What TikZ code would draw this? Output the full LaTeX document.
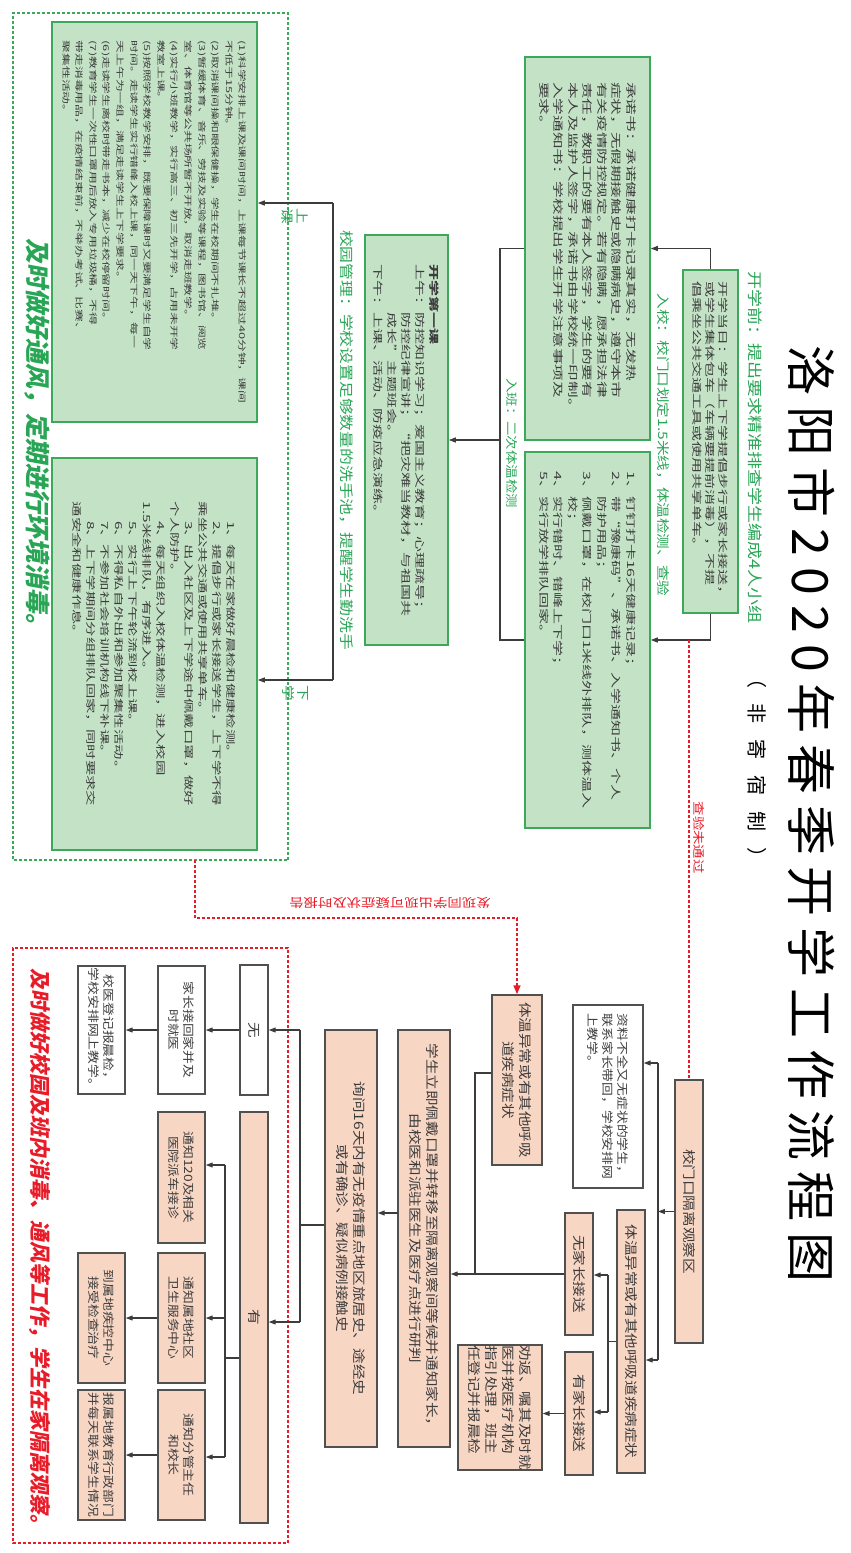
\documentclass[tikz,border=0pt]{standalone}
\usepackage{fontspec}
\setmainfont{Noto Sans CJK SC}
\newfontfamily\gfont{Noto Sans CJK SC}[FakeStretch=1.6]
\newfontfamily\pfont{Noto Sans CJK SC}[FakeStretch=1.2]
\newfontfamily\tfont{Noto Sans CJK SC}[LetterSpace=22]
\newfontfamily\efont{Noto Sans CJK SC}[FakeSlant=0.18]
\XeTeXlinebreaklocale "zh"
\XeTeXlinebreakskip=0pt plus 1pt
\usetikzlibrary{arrows.meta}

\definecolor{gfill}{RGB}{196,227,198}
\definecolor{gline}{RGB}{60,168,90}
\definecolor{gtext}{RGB}{40,165,85}
\definecolor{pfill}{RGB}{248,214,196}
\definecolor{pline}{RGB}{80,80,80}
\definecolor{rline}{RGB}{232,28,40}
\definecolor{ink}{RGB}{60,60,60}

\tikzset{
  gbox/.style={draw=gline, fill=gfill, line width=1.6pt, align=left,
    inner sep=0pt, text=ink},
  pbox/.style={draw=pline, fill=pfill, line width=1.5pt, align=center,
    inner sep=0pt, text=ink, font=\pfont\fontsize{13}{17}\selectfont},
  wbox/.style={pbox, fill=white},
  small/.style={font=\pfont\fontsize{11.5}{15}\selectfont},
  glabel/.style={text=gtext, font=\pfont\fontsize{13}{15}\selectfont},
  rlabel/.style={text=rline, font=\pfont\fontsize{12}{14}\selectfont},
  ln/.style={draw=ink, line width=1.1pt},
  arr/.style={ln, -{Triangle[length=7pt,width=5pt]}},
  rdash/.style={draw=rline, line width=1.6pt, dash pattern=on 3pt off 2pt},
}

\begin{document}
\begin{tikzpicture}[x=1pt, y=-1pt, rotate=-90, transform shape]
  \useasboundingbox (0,0) rectangle (1553,851);

  % zones
  \node[draw=gline, line width=1.6pt, dash pattern=on 3pt off 2pt,
    minimum width=847pt, minimum height=275pt] (gzone) at (436.5,700.5) {};
  \node[draw=rline, line width=1.6pt, dash pattern=on 3pt off 2pt,
    minimum width=595pt, minimum height=275pt] (rzone) at (1245.5,700.5) {};

  % title
  \node (title) at (814,39) {\tfont\fontsize{50}{55}\selectfont 洛阳市2020年春季开学工作流程图};
  \node (sub) at (768,94) {\fontsize{20}{24}\selectfont （\hspace{16pt}非\hspace{16pt}寄\hspace{16pt}宿\hspace{16pt}制\hspace{16pt}）};
  \node[glabel, font=\pfont\fontsize{15}{17}\selectfont] (lbefore) at (447,96) {开学前：提出要求精准排查学生编成4人小组};

  % school side
  \node[gbox, minimum width=343pt, minimum height=55pt,
    font=\gfont\fontsize{10}{13}\selectfont] (A) at (441.5,140.5)
    {开学当日：学生上下学提倡步行或家长接送，\\
     或学生集体包车（车辆要提前消毒），不提\\
     倡乘坐公共交通工具或使用共享单车。};
  \node[glabel] (lin) at (445,188) {入校：校门口划定1.5米线，体温检测、查验};

  \node[gbox, minimum width=383pt, minimum height=125pt,
    font=\gfont\fontsize{10.4}{14.5}\selectfont] (B) at (248.5,263.5)
    {承诺书：承诺健康打卡记录真实，无发热\\
     症状，无假期接触史或隐瞒病史，遵守本市\\
     有关疫情防控规定。若有隐瞒，愿承担法律\\
     责任，教职工的要有本人签字，学生的要有\\
     本人及监护人签字，承诺书由学校统一印制。\\
     入学通知书：学校提出学生开学注意事项及\\
     要求。};
  \node[gbox, minimum width=376pt, minimum height=125pt,
    font=\gfont\fontsize{10}{14.5}\selectfont] (C) at (640,263.5)
    {1、钉钉打卡16天健康记录；\\
     2、带“豫康码”、承诺书、入学通知书、个人\\
     \phantom{2、}防护用品；\\
     3、佩戴口罩，在校门口1米线外排队，测体温入\\
     \phantom{3、}校；\\
     4、实行错时、错峰上下学；\\
     5、实行放学排队回家。};
  \node[glabel, font=\pfont\fontsize{12}{14}\selectfont] (lclass) at (443,339) {入班：二次体温检测};

  \node[gbox, minimum width=410pt, minimum height=83pt,
    font=\gfont\fontsize{10}{14}\selectfont] (D) at (440,444.5)
    {\textbf{开学第一课}\\
     上午：防控知识学习；爱国主义教育；心理疏导；\\
     \phantom{上午：}防控纪律宣讲；“把灾难当教材，与祖国共\\
     \phantom{上午：}成长”主题班会。\\
     下午：上课、活动、防疫应急演练。};
  \node[glabel, font=\pfont\fontsize{14}{16}\selectfont] (lcampus) at (440,504) {校园管理：学校设置足够数量的洗手池，提醒学生勤洗手};

  \node[gbox, minimum width=400pt, minimum height=205pt,
    font=\gfont\fontsize{8}{13.6}\selectfont] (E) at (222,696.5)
    {(1)科学安排上课及课间时间，上课每节课长不超过40分钟，课间\\
     不低于15分钟。\\
     (2)取消课间操和眼保健操，学生在校期间不扎堆。\\
     (3)暂缓体育、音乐、劳技及实验等课程，图书馆、阅览\\
     室、体育馆等公共场所暂不开放，取消走班教学。\\
     (4)实行小班教学，实行高三、初三先开学，占用未开学\\
     教室上课。\\
     (5)按照学校教学安排，既要保障课时又要满足学生自学\\
     时间。走读学生实行错峰入校上课，同一天下午，每一\\
     天上午为一组，满足走读学生上下学要求。\\
     (6)走读学生离校时带走书本，减少在校停留时间。\\
     (7)教育学生一次性口罩用后放入专用垃圾桶，不得\\
     带走消毒用品，在疫情结束前，不举办考试、比赛、\\
     聚集性活动。};
  \node[gbox, minimum width=392pt, minimum height=205pt,
    font=\gfont\fontsize{9.6}{14}\selectfont] (F) at (654,696.5)
    {\hspace*{2em}1、每天在家做好晨检和健康检测。\\
     \hspace*{2em}2、提倡步行或家长接送学生，上下学不得\\
     乘坐公共交通或使用共享单车。\\
     \hspace*{2em}3、出入社区及上下学途中佩戴口罩，做好\\
     个人防护。\\
     \hspace*{2em}4、每天组织入校体温检测，进入校园\\
     1.5米线排队，有序进入。\\
     \hspace*{2em}5、实行上下午轮流到校上课。\\
     \hspace*{2em}6、不得私自外出和参加聚集性活动。\\
     \hspace*{2em}7、不参加社会培训机构线下补课。\\
     \hspace*{2em}8、上下学期间分组排队回家，同时要求交\\
     通安全和健康作息。};
  \node[glabel, align=center] (lup) at (216,556) {上\\课};
  \node[glabel, align=center] (ldown) at (693,556) {下\\学};
  \node[text=gtext, font=\efont\bfseries\fontsize{25}{28}\selectfont] (gnote) at (438,814) {及时做好通风，定期进行环境消毒。};

  % isolation side
  \node[pbox, minimum width=263pt, minimum height=28pt] (H) at (1211.5,162) {校门口隔离观察区};
  \node[wbox, small, minimum width=183pt, minimum height=70pt, align=left] (I) at (1096.5,243)
    {资料不全又无症状的学生，\\联系家长带回，学校安排网\\上教学。};
  \node[pbox, minimum width=263pt, minimum height=28pt] (J) at (1341.5,220) {体温异常或有其他呼吸道疾病症状};
  \node[pbox, minimum width=122pt, minimum height=28pt] (K) at (1274,272) {无家长接送};
  \node[pbox, minimum width=123pt, minimum height=28pt] (L) at (1413.5,272) {有家长接送};
  \node[pbox, minimum width=121pt, minimum height=84pt, align=left] (M) at (1407.5,351)
    {劝返、嘱其及时就\\医并按医疗机构\\指引处理，班主\\任登记并报晨检};
  \node[pbox, minimum width=170pt, minimum height=50pt] (G) at (1080,334) {体温异常或有其他呼吸\\道疾病症状};
  \node[pbox, minimum width=417pt, minimum height=52pt] (N) at (1238.5,427)
    {学生立即佩戴口罩并转移至隔离观察间等候并通知家长，\\由校医和派驻医生及医疗点进行研判};
  \node[pbox, minimum width=417pt, minimum height=52pt] (O) at (1238.5,500)
    {询问16天内有无疫情重点地区旅居史、途经史\\或有确诊、疑似病例接触史};
  \node[wbox, minimum width=130pt, minimum height=28pt] (W1) at (1030,597) {无};
  \node[pbox, minimum width=411pt, minimum height=28pt] (Y1) at (1317.5,597) {有};
  \node[wbox, small, minimum width=128pt, minimum height=47pt] (W2) at (1030,669.5) {家长接回家并及\\时就医};
  \node[wbox, small, minimum width=128pt, minimum height=47pt] (W3) at (1030,749.5) {校医登记报晨检，\\学校安排网上教学。};
  \node[pbox, small, minimum width=131pt, minimum height=47pt] (P) at (1177.5,669.5) {通知120及相关\\医院派车接诊};
  \node[pbox, small, minimum width=130pt, minimum height=47pt] (Q) at (1318,669.5) {通知属地社区\\卫生服务中心};
  \node[pbox, small, minimum width=130pt, minimum height=47pt] (R) at (1455,669.5) {通知分管主任\\和校长};
  \node[pbox, small, minimum width=130pt, minimum height=47pt] (S) at (1318,749.5) {到属地疾控中心\\接受检查治疗};
  \node[pbox, small, minimum width=130pt, minimum height=47pt] (T) at (1455,749.5) {报属地教育行政部门\\并每天联系学生情况};
  \node[text=rline, font=\efont\bfseries\fontsize{21}{24}\selectfont] (rnote) at (1252,811) {及时做好校园及班内消毒、通风等工作，学生在家隔离观察。};

  % connectors, school side
  \draw[arr] (A.west) -| (B.north);
  \draw[arr] (A.east) -| (C.north);
  \coordinate (j1) at (440,351);
  \draw[ln] (B.south) -- (B.south |- j1) -- (C.south |- j1) -- (C.south);
  \draw[arr] (j1) -- (D.north);
  \coordinate (j2) at (203,518);
  \coordinate (j3) at (680,518);
  \draw[ln] (j2) -- (j3);
  \draw[arr] (j2) -- (j2 |- E.north);
  \draw[arr] (j3) -- (j3 |- F.north);

  % red dashed links
  \draw[rdash] (C.north |- H.west) -- node[rlabel, above, pos=0.45] (lfail) {查验未通过} (H.west);
  \coordinate (r1) at (860,656);
  \draw[rdash, -{Triangle[length=9pt,width=7pt]}] (r1) -- ++(58,0) |- (G.west);
  \node[rlabel, rotate=-90] (lfind) at (903,461) {发现同学出现可疑症状及时报告};

  % connectors, isolation side
  \coordinate (hb) at (1211.5,193);
  \coordinate (hI) at (1063,193);
  \coordinate (hJ) at (1360,193);
  \draw[arr] (H.south) -- (hb);
  \draw[ln] (hI) -- (hJ);
  \draw[arr] (hI) -- (hI |- I.north);
  \draw[arr] (hJ) -- (hJ |- J.north);

  \coordinate (jb) at (1341.5,243);
  \coordinate (jK) at (1275,243);
  \coordinate (jL) at (1412,243);
  \draw[ln] (J.south) -- (jb);
  \draw[ln] (jK) -- (jL);
  \draw[arr] (jK) -- (jK |- K.north);
  \draw[arr] (jL) -- (jL |- L.north);
  \draw[arr] (L.south) -- (L.south |- M.north);

  \coordinate (g1) at (1073,376);
  \draw[ln] (g1 |- G.south) -- (g1) -- (K.south |- g1);
  \draw[arr] (K.south) -- (K.south |- N.north);

  \coordinate (n1) at (1213,453);
  \draw[arr] (n1) -- (n1 |- O.north);

  \coordinate (ob) at (1225,551);
  \coordinate (oW) at (1030,551);
  \coordinate (oY) at (1322,551);
  \draw[ln] (ob |- O.south) -- (ob);
  \draw[ln] (oW) -- (oY);
  \draw[arr] (oW) -- (oW |- W1.north);
  \draw[arr] (oY) -- (oY |- Y1.north);
  \draw[arr] (W1.south) -- (W2.north);
  \draw[arr] (W2.south) -- (W3.north);

  \coordinate (yb) at (1358,626);
  \coordinate (yP) at (1165,626);
  \coordinate (yQ) at (1318,626);
  \coordinate (yR) at (1457,626);
  \draw[ln] (yb |- Y1.south) -- (yb);
  \draw[ln] (yP) -- (yR);
  \draw[arr] (yP) -- (yP |- P.north);
  \draw[arr] (yQ) -- (yQ |- Q.north);
  \draw[arr] (yR) -- (yR |- R.north);
  \draw[arr] (Q.south) -- (S.north);
  \draw[arr] (R.south) -- (R.south |- T.north);
\end{tikzpicture}
\end{document}
